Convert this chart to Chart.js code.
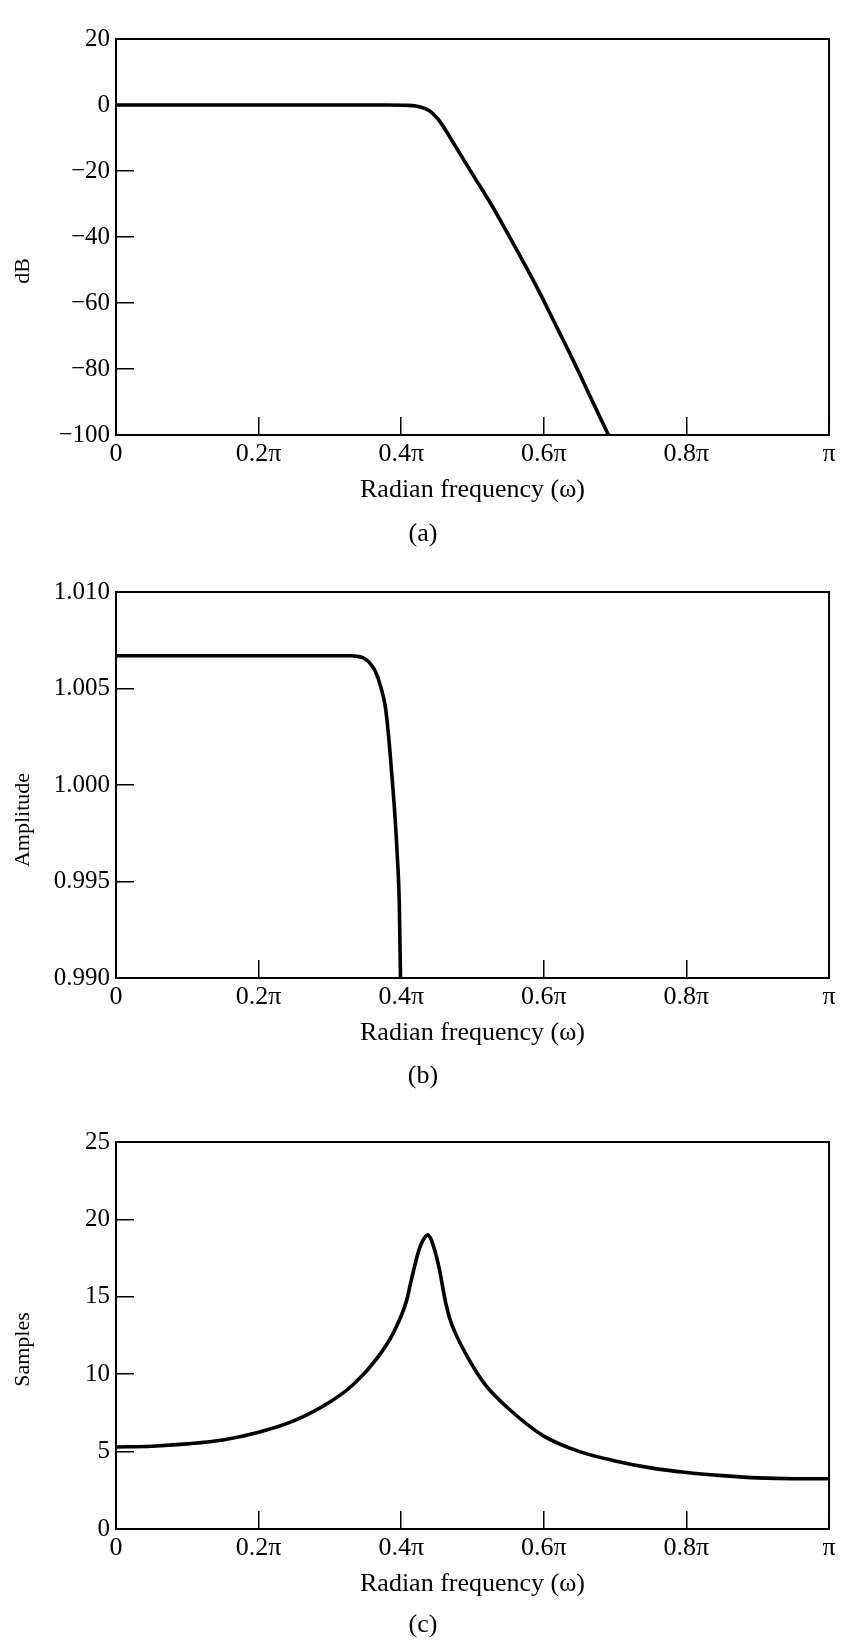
<!DOCTYPE html>
<html>
<head>
<meta charset="utf-8">
<script src="https://cdn.jsdelivr.net/npm/chart.js@4.4.1/dist/chart.umd.min.js"></script>
<style>
  html, body { margin: 0; padding: 0; background: #fff; }
  body { width: 857px; height: 1642px; position: relative; overflow: hidden; }
  canvas { position: absolute; left: 0; }
</style>
</head>
<body>
<canvas id="ca" width="857" height="560" style="top:0px"></canvas>
<canvas id="cb" width="857" height="550" style="top:553px"></canvas>
<canvas id="cc" width="857" height="539" style="top:1103px"></canvas>
<script>
// ---------- shared x axis (radian frequency, in units of π) ----------
const xTickValues = [0, 0.2, 0.4, 0.6, 0.8, 1];
const xTickLabels = ['0', '0.2π', '0.4π', '0.6π', '0.8π', 'π'];
const xAxisTitle = 'Radian frequency (ω)';

// ---------- panel (a): magnitude in dB ----------
const freqA = [0, 0.1, 0.2, 0.3, 0.38, 0.41, 0.4206, 0.43, 0.4389, 0.447, 0.4549, 0.4709, 0.503, 0.5259, 0.5487, 0.5716, 0.5945, 0.6174, 0.6403, 0.6632, 0.6906];
const magA  = [0, 0, 0, 0, 0, -0.1, -0.3, -0.8, -1.7, -3.2, -5.2, -10.7, -22, -30, -38.7, -47.7, -57, -67, -77, -87.5, -100];
const yTickValuesA = [20, 0, -20, -40, -60, -80, -100];
const yTickLabelsA = ['20', '0', '−20', '−40', '−60', '−80', '−100'];

// ---------- panel (b): passband amplitude ----------
const freqB = [0, 0.1, 0.2, 0.3, 0.33, 0.3388, 0.346, 0.3525, 0.358, 0.364, 0.3716, 0.3777, 0.3822, 0.3867, 0.3914, 0.3945, 0.3973, 0.399];
const ampB  = [1.0067, 1.0067, 1.0067, 1.0067, 1.0067, 1.00666, 1.0066, 1.00644, 1.00622, 1.00587, 1.00505, 1.00406, 1.00258, 1.0006, 0.9983, 0.99632, 0.99385, 0.99];
const yTickValuesB = [0.990, 0.995, 1.000, 1.005, 1.010];
const yTickLabelsB = ['0.990', '0.995', '1.000', '1.005', '1.010'];

// ---------- panel (c): group delay in samples ----------
const freqC  = [0, 0.05, 0.1, 0.15, 0.2, 0.25, 0.3, 0.334, 0.366, 0.389, 0.4073, 0.413, 0.4188, 0.425, 0.43, 0.437, 0.442, 0.447, 0.453, 0.462, 0.468, 0.4758, 0.4941, 0.5169, 0.55, 0.6, 0.65, 0.7, 0.75, 0.8, 0.85, 0.9, 0.95, 1.0];
const delayC = [5.3, 5.35, 5.5, 5.75, 6.25, 7.0, 8.2, 9.38, 11.02, 12.67, 14.72, 15.85, 16.97, 18.05, 18.6, 19.0, 18.7, 18.0, 16.9, 14.7, 13.6, 12.67, 11.02, 9.38, 7.8, 6.0, 5.0, 4.4, 3.95, 3.65, 3.45, 3.3, 3.25, 3.25];
const yTickValuesC = [0, 5, 10, 15, 20, 25];
const yTickLabelsC = ['0', '5', '10', '15', '20', '25'];

// ---------- styling / layout ----------
const FONT = 'Liberation Serif';
const X_TICK_SIZE = 26, Y_TICK_SIZE = 25, TITLE_SIZE = 26, Y_TITLE_SIZE = 22;
const TICK_LEN = 18;
const PLOT_LEFT = 116, PLOT_RIGHT = 846, PAGE_W = 857;

const framePlugin = {
  id: 'frame',
  afterDatasetsDraw(chart) {
    const { ctx, chartArea: a } = chart;
    ctx.save();
    ctx.strokeStyle = '#000';
    ctx.lineWidth = 2;
    ctx.strokeRect(a.left, a.top, a.right - a.left, a.bottom - a.top);
    ctx.restore();
  }
};

const yTitlePlugin = {
  id: 'yTitle',
  afterDraw(chart, args, opts) {
    if (!opts || !opts.text) return;
    const { ctx, chartArea: a } = chart;
    ctx.save();
    ctx.font = Y_TITLE_SIZE + 'px "' + FONT + '"';
    ctx.fillStyle = '#000';
    ctx.textAlign = 'center';
    ctx.textBaseline = 'middle';
    ctx.translate(opts.x, (a.top + a.bottom) / 2 + opts.dy);
    ctx.rotate(-Math.PI / 2);
    ctx.fillText(opts.text, 0, 0);
    ctx.restore();
  }
};

function buildPanel(id, g) {
  const lh = TITLE_SIZE * 1.2;
  const capCenter = g.plotBottom + g.captionOff;
  const capPadBottom = g.canvasH - lh / 2 - capCenter;
  const capBoxTop = g.canvasH - capPadBottom - lh;
  const xScaleH = capBoxTop - g.plotBottom;
  const xTitlePadBottom = capBoxTop - lh / 2 - (g.plotBottom + g.xlabelOff);
  const tickPad = g.tickLabelOff + TICK_LEN - (X_TICK_SIZE * 1.2) / 2;

  return new Chart(document.getElementById(id), {
    type: 'line',
    data: {
      datasets: [{
        data: g.xs.map((x, i) => ({ x: x, y: g.ys[i] })),
        borderColor: '#000',
        borderWidth: 3.6,
        pointRadius: 0,
        fill: false,
        cubicInterpolationMode: 'monotone',
        tension: 0.4
      }]
    },
    options: {
      responsive: false,
      animation: false,
      events: [],
      layout: { padding: { top: g.plotTop, right: PAGE_W - PLOT_RIGHT, bottom: 0, left: 0 } },
      plugins: {
        legend: { display: false },
        tooltip: { enabled: false },
        title: {
          display: true,
          position: 'bottom',
          text: g.caption,
          color: '#000',
          font: { family: FONT, size: TITLE_SIZE, weight: 'normal' },
          padding: { top: 0, bottom: capPadBottom }
        },
        yTitle: { text: g.yTitle, x: 23, dy: g.yTitleDy }
      },
      scales: {
        x: {
          type: 'linear',
          min: 0, max: 1,
          afterBuildTicks: s => { s.ticks = xTickValues.map(v => ({ value: v })); },
          afterFit: s => { s.height = xScaleH; },
          border: { display: false },
          grid: { display: true, drawOnChartArea: false, drawTicks: true, tickLength: -TICK_LEN, color: '#000', lineWidth: 1.5 },
          ticks: {
            autoSkip: false, maxRotation: 0, minRotation: 0,
            padding: tickPad, color: '#000',
            font: { family: FONT, size: X_TICK_SIZE },
            callback: (v, i) => xTickLabels[i]
          },
          title: {
            display: true, text: xAxisTitle, color: '#000',
            font: { family: FONT, size: TITLE_SIZE },
            padding: { top: 0, bottom: xTitlePadBottom }
          }
        },
        y: {
          type: 'linear',
          min: g.yMin, max: g.yMax,
          afterBuildTicks: s => { s.ticks = g.yTickValues.map(v => ({ value: v })); },
          afterFit: s => { s.width = PLOT_LEFT; },
          border: { display: false },
          grid: { display: true, drawOnChartArea: false, drawTicks: true, tickLength: -TICK_LEN, color: '#000', lineWidth: 1.5 },
          ticks: {
            autoSkip: false,
            padding: 24, color: '#000',
            font: { family: FONT, size: Y_TICK_SIZE },
            callback: (v, i) => g.yTickLabels[i]
          },
          title: { display: false }
        }
      }
    },
    plugins: [framePlugin, yTitlePlugin]
  });
}

buildPanel('ca', {
  canvasH: 560, plotTop: 20, plotBottom: 435,
  tickLabelOff: 19, xlabelOff: 55, captionOff: 99, caption: '(a)',
  xs: freqA, ys: magA, yMin: -100, yMax: 20,
  yTickValues: yTickValuesA, yTickLabels: yTickLabelsA,
  yTitle: 'dB', yTitleDy: 34
});
buildPanel('cb', {
  canvasH: 550, plotTop: 20, plotBottom: 425,
  tickLabelOff: 19, xlabelOff: 55, captionOff: 98, caption: '(b)',
  xs: freqB, ys: ampB, yMin: 0.99, yMax: 1.01,
  yTickValues: yTickValuesB, yTickLabels: yTickLabelsB,
  yTitle: 'Amplitude', yTitleDy: 35
});
buildPanel('cc', {
  canvasH: 539, plotTop: 20, plotBottom: 426,
  tickLabelOff: 19, xlabelOff: 55, captionOff: 96, caption: '(c)',
  xs: freqC, ys: delayC, yMin: 0, yMax: 25,
  yTickValues: yTickValuesC, yTickLabels: yTickLabelsC,
  yTitle: 'Samples', yTitleDy: 14
});
</script>
</body>
</html>
